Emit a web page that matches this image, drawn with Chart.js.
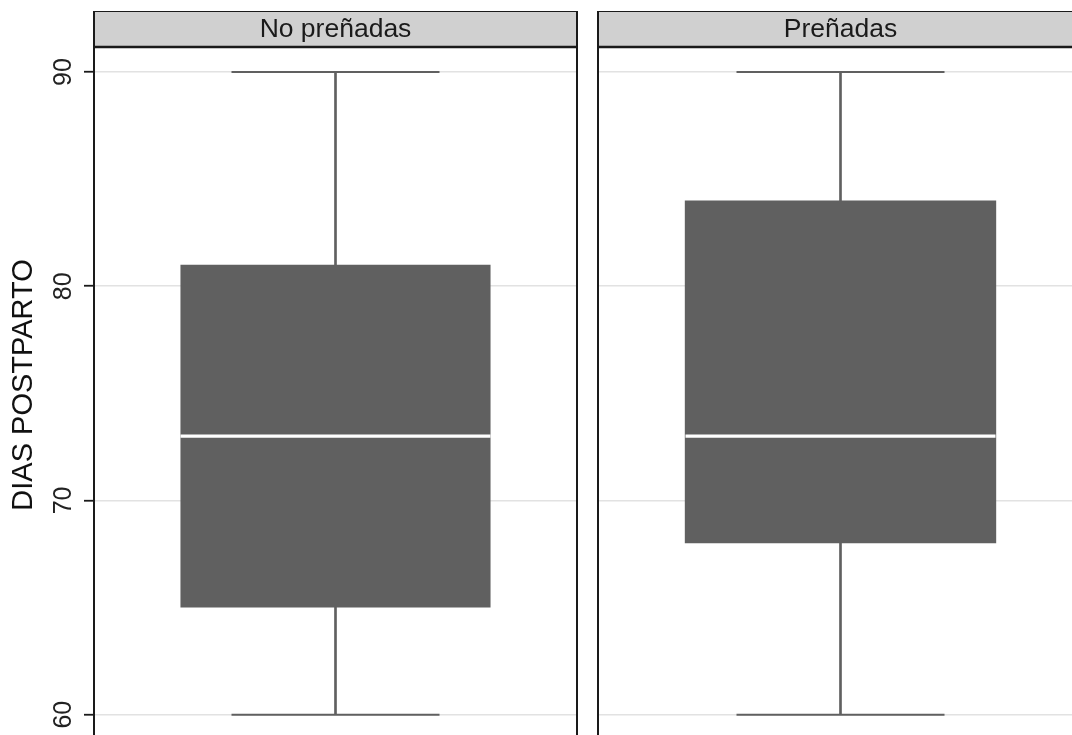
<!DOCTYPE html>
<html>
<head>
<meta charset="utf-8">
<script src="https://cdn.jsdelivr.net/npm/chart.js@4.4.1/dist/chart.umd.min.js"></script>
<style>
  html, body { margin: 0; padding: 0; background: #ffffff; }
  #wrap { position: relative; width: 1072px; height: 735px; overflow: hidden; background: #ffffff; }
  #wrap canvas { position: absolute; top: 0; }
</style>
</head>
<body>
<div id="wrap">
  <canvas id="panel0" width="580" height="759" style="left:0px;width:580px;height:759px"></canvas>
  <canvas id="panel1" width="500" height="759" style="left:590px;width:500px;height:759px"></canvas>
</div>
<script>
// Boxplot summaries of postpartum days, one facet per group
const panels = ['No preñadas', 'Preñadas'];
const whiskerLow = [60, 60];
const q1 = [65, 68];
const median = [73, 73];
const q3 = [81, 84];
const whiskerHigh = [90, 90];
const yTicks = [60, 70, 80, 90];
const yTitle = 'DIAS POSTPARTO';

const FONT = "'Liberation Sans', Arial, Helvetica, sans-serif";
const BOX = '#606060';

// Facet strip on top of each panel plus the panel frame
const stripPlugin = {
  id: 'facetStrip',
  afterDraw(chart, args, opts) {
    const { ctx, chartArea } = chart;
    const l = chartArea.left, r = chartArea.right;
    const top = chartArea.top, stripBottom = top + 36;
    ctx.save();
    ctx.fillStyle = '#d0d0d0';
    ctx.fillRect(l, top, r - l, stripBottom - top);
    ctx.strokeStyle = '#1a1a1a';
    ctx.lineWidth = 1.2;
    ctx.beginPath();
    ctx.moveTo(l, top + 0.5);
    ctx.lineTo(r, top + 0.5);
    ctx.stroke();
    ctx.lineWidth = 2.4;
    ctx.beginPath();
    ctx.moveTo(l, stripBottom);
    ctx.lineTo(r, stripBottom);
    ctx.stroke();
    ctx.lineWidth = 2;
    ctx.beginPath();
    ctx.moveTo(l, top);
    ctx.lineTo(l, chartArea.bottom);
    ctx.moveTo(r, top);
    ctx.lineTo(r, chartArea.bottom);
    ctx.stroke();
    ctx.fillStyle = '#1a1a1a';
    ctx.font = '26.5px ' + FONT;
    ctx.textAlign = 'center';
    ctx.textBaseline = 'alphabetic';
    ctx.fillText(opts.label, (l + r) / 2, top + 25.5);
    ctx.restore();
  }
};

function makePanel(i, canvasId, withAxis, padding) {
  const label = panels[i];
  return new Chart(document.getElementById(canvasId), {
    type: 'bar',
    data: {
      labels: [label],
      datasets: [
        {
          type: 'bar', label: 'whisker', order: 4, grouped: false,
          data: [[whiskerLow[i], whiskerHigh[i]]],
          backgroundColor: BOX, borderWidth: 0, barThickness: 2
        },
        {
          type: 'bar', label: 'box', order: 3, grouped: false,
          data: [[q1[i], q3[i]]],
          backgroundColor: BOX, borderWidth: 0,
          barPercentage: 0.642, categoryPercentage: 1
        },
        {
          type: 'line', label: 'caps', order: 2, showLine: false,
          data: [{ x: label, y: whiskerLow[i] }, { x: label, y: whiskerHigh[i] }],
          pointStyle: 'line', pointRadius: 104, pointBorderWidth: 2,
          pointBorderColor: BOX, borderColor: BOX, clip: false
        },
        {
          type: 'line', label: 'median', order: 1, showLine: false,
          data: [{ x: label, y: median[i] }],
          pointStyle: 'line', pointRadius: 155, pointBorderWidth: 3.2,
          pointBorderColor: '#ffffff', borderColor: '#ffffff', clip: false
        }
      ]
    },
    options: {
      responsive: false,
      animation: false,
      events: [],
      layout: { padding: padding, autoPadding: false },
      plugins: {
        legend: { display: false },
        tooltip: { enabled: false },
        facetStrip: { label: label }
      },
      scales: {
        x: { type: 'category', display: false, offset: true },
        y: {
          type: 'linear',
          min: 57.932,
          max: 92.847,
          afterBuildTicks: s => { s.ticks = yTicks.map(v => ({ value: v })); },
          afterFit: s => {
            s.width = withAxis ? 94 : 0;
            s.paddingTop = 0;
            s.paddingBottom = 0;
          },
          border: { display: false },
          grid: {
            color: '#e2e2e2', lineWidth: 1.5,
            drawTicks: withAxis, tickLength: 10, tickColor: '#1a1a1a', tickWidth: 1.8
          },
          ticks: {
            display: withAxis,
            padding: 5.5,
            minRotation: 90, maxRotation: 90,
            crossAlign: 'center',
            color: '#222222',
            font: { family: FONT, size: 25 }
          },
          title: {
            display: withAxis,
            text: yTitle,
            color: '#111111',
            padding: { top: 7, bottom: 0 },
            font: { family: FONT, size: 29 }
          }
        }
      }
    },
    plugins: [stripPlugin]
  });
}

makePanel(0, 'panel0', true, { top: 11, right: 3, bottom: 0, left: 0 });
makePanel(1, 'panel1', false, { top: 11, right: 7, bottom: 0, left: 8 });
</script>
</body>
</html>
